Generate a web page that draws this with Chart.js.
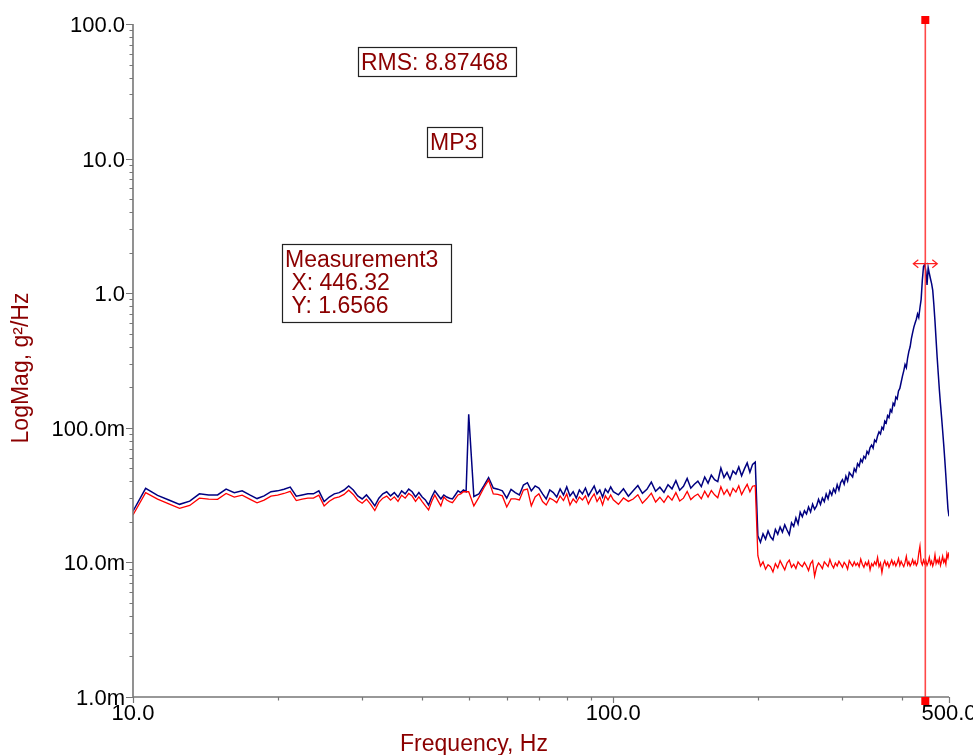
<!DOCTYPE html>
<html>
<head>
<meta charset="utf-8">
<script src="https://cdn.jsdelivr.net/npm/chart.js@4.4.1/dist/chart.umd.min.js"></script>
<style>
  html, body { margin: 0; padding: 0; background: #fff; }
  #chart { display: block; }
</style>
</head>
<body>
<canvas id="chart" width="973" height="755"></canvas>
<script>
// spectrum sampled on four frequency grids (Hz): start, step, one value per step
const SEG1_START = 10, SEG1_STEP = 0.625;
const SEG2_START = 50, SEG2_STEP = 1.25;
const SEG3_START = 100, SEG3_STEP = 2.5;
const SEG4_START = 200, SEG4_STEP = 2.5;

// blue trace, g²/Hz
const blueSeg1 = [
    0.0240, 0.0355, 0.0315, 0.0291, 0.0270, 0.0285, 0.0323, 0.0317, 0.0317, 0.0350,
    0.0330, 0.0340, 0.0317, 0.0298, 0.0312, 0.0335, 0.0340, 0.0350, 0.0363, 0.0310,
    0.0317, 0.0323, 0.0323, 0.0340, 0.0283, 0.0306, 0.0323, 0.0330, 0.0345, 0.0370,
    0.0345, 0.0312, 0.0296, 0.0317, 0.0291, 0.0263, 0.0300, 0.0323, 0.0335, 0.0312,
    0.0330, 0.0306, 0.0340, 0.0323, 0.0350, 0.0335, 0.0306, 0.0330, 0.0306, 0.0291,
    0.0267, 0.0306, 0.0340, 0.0317, 0.0296, 0.0317, 0.0306, 0.0300, 0.0296, 0.0317,
    0.0340, 0.0330, 0.0345, 0.0335
];
const blueSeg2 = [
    0.1260, 0.0309, 0.0323, 0.0370, 0.0427, 0.0357, 0.0350, 0.0340, 0.0300, 0.0349,
    0.0330, 0.0317, 0.0376, 0.0391, 0.0340, 0.0370, 0.0357, 0.0323, 0.0296, 0.0345,
    0.0330, 0.0306, 0.0351, 0.0317, 0.0364, 0.0312, 0.0335, 0.0300, 0.0345, 0.0323,
    0.0357, 0.0312, 0.0340, 0.0370, 0.0323, 0.0345, 0.0306, 0.0351, 0.0330, 0.0364
];
const blueSeg3 = [
    0.0335, 0.0318, 0.0352, 0.0310, 0.0341, 0.0372, 0.0326, 0.0349, 0.0395, 0.0338,
    0.0362, 0.0331, 0.0378, 0.0352, 0.0405, 0.0344, 0.0368, 0.0420, 0.0356, 0.0381,
    0.0402, 0.0366, 0.0431, 0.0388, 0.0445, 0.0412, 0.0398, 0.0502, 0.0428, 0.0466,
    0.0415, 0.0478, 0.0453, 0.0512, 0.0440, 0.0495, 0.0548, 0.0468, 0.0535, 0.0556
];
const blueSeg4 = [
    0.0158, 0.0141, 0.0163, 0.0149, 0.0171, 0.0155, 0.0147, 0.0176, 0.0162, 0.0183,
    0.0168, 0.0190, 0.0174, 0.0161, 0.0197, 0.0185, 0.0214, 0.0193, 0.0236, 0.0218,
    0.0242, 0.0229, 0.0258, 0.0237, 0.0271, 0.0248, 0.0263, 0.0294, 0.0270, 0.0301,
    0.0283, 0.0322, 0.0297, 0.0339, 0.0316, 0.0352, 0.0331, 0.0378, 0.0345, 0.0392,
    0.0412, 0.0381, 0.0436, 0.0402, 0.0465, 0.0448, 0.0431, 0.0497, 0.0472, 0.0541,
    0.0518, 0.0582, 0.0556, 0.0614, 0.0593, 0.0668, 0.0641, 0.0712, 0.0745, 0.0706,
    0.0812, 0.0786, 0.0868, 0.0934, 0.0902, 0.1010, 0.0975, 0.1120, 0.1085, 0.1230,
    0.1190, 0.1360, 0.1310, 0.1520, 0.1470, 0.1690, 0.1640, 0.1880, 0.1960, 0.2180,
    0.2420, 0.2650, 0.2950, 0.2800, 0.3300, 0.3700, 0.4000, 0.4600, 0.5100, 0.5600,
    0.6000, 0.6400, 0.7000, 0.6600, 0.7800, 0.9000, 1.2500, 1.5800, 1.6400, 1.4500,
    1.1500, 1.5500, 1.4000, 1.2800, 1.1800, 1.0500, 0.8200, 0.6200, 0.4500, 0.3300,
    0.2500, 0.1900, 0.1500, 0.1200, 0.0950, 0.0750, 0.0580, 0.0440, 0.0330, 0.0250,
    0.0220
];

// red trace, g²/Hz
const redSeg1 = [
    0.0225, 0.0330, 0.0295, 0.0272, 0.0252, 0.0265, 0.0300, 0.0295, 0.0294, 0.0325,
    0.0306, 0.0316, 0.0295, 0.0277, 0.0290, 0.0311, 0.0316, 0.0325, 0.0337, 0.0288,
    0.0295, 0.0300, 0.0300, 0.0316, 0.0263, 0.0285, 0.0300, 0.0307, 0.0320, 0.0344,
    0.0320, 0.0290, 0.0275, 0.0295, 0.0270, 0.0243, 0.0279, 0.0300, 0.0311, 0.0290,
    0.0307, 0.0284, 0.0316, 0.0300, 0.0325, 0.0311, 0.0284, 0.0307, 0.0283, 0.0263,
    0.0245, 0.0283, 0.0317, 0.0288, 0.0263, 0.0306, 0.0291, 0.0283, 0.0278, 0.0296,
    0.0317, 0.0323, 0.0335, 0.0335
];
const redSeg2 = [
    0.0335, 0.0263, 0.0304, 0.0357, 0.0409, 0.0323, 0.0320, 0.0312, 0.0258, 0.0296,
    0.0296, 0.0291, 0.0345, 0.0351, 0.0263, 0.0306, 0.0323, 0.0283, 0.0267, 0.0300,
    0.0291, 0.0278, 0.0312, 0.0288, 0.0323, 0.0267, 0.0296, 0.0278, 0.0306, 0.0291,
    0.0312, 0.0272, 0.0300, 0.0323, 0.0283, 0.0306, 0.0267, 0.0312, 0.0291, 0.0317
];
const redSeg3 = [
    0.0292, 0.0270, 0.0301, 0.0284, 0.0296, 0.0318, 0.0275, 0.0298, 0.0327, 0.0281,
    0.0305, 0.0279, 0.0312, 0.0290, 0.0330, 0.0286, 0.0300, 0.0336, 0.0293, 0.0310,
    0.0322, 0.0297, 0.0338, 0.0306, 0.0342, 0.0318, 0.0302, 0.0365, 0.0320, 0.0347,
    0.0312, 0.0355, 0.0333, 0.0371, 0.0319, 0.0350, 0.0380, 0.0335, 0.0368, 0.0372
];
const redSeg4 = [
    0.0112, 0.0094, 0.0101, 0.0089, 0.0096, 0.0093, 0.0085, 0.0098, 0.0091, 0.0103,
    0.0095, 0.0088, 0.0099, 0.0104, 0.0092, 0.0097, 0.0090, 0.0101, 0.0096, 0.0093,
    0.0100, 0.0094, 0.0087, 0.0098, 0.0103, 0.0079, 0.0092, 0.0099, 0.0095, 0.0090,
    0.0101, 0.0097, 0.0093, 0.0105, 0.0096, 0.0091, 0.0099, 0.0094, 0.0102, 0.0097,
    0.0092, 0.0100, 0.0096, 0.0089, 0.0103, 0.0098, 0.0094, 0.0101, 0.0095, 0.0099,
    0.0093, 0.0106, 0.0097, 0.0092, 0.0100, 0.0095, 0.0102, 0.0088, 0.0098, 0.0094,
    0.0101, 0.0096, 0.0109, 0.0093, 0.0099, 0.0084, 0.0097, 0.0103, 0.0095, 0.0100,
    0.0092, 0.0098, 0.0104, 0.0096, 0.0101, 0.0094, 0.0099, 0.0107, 0.0095, 0.0102,
    0.0097, 0.0093, 0.0100, 0.0111, 0.0096, 0.0101, 0.0094, 0.0098, 0.0105, 0.0097,
    0.0102, 0.0095, 0.0099, 0.0117, 0.0132, 0.0101, 0.0096, 0.0104, 0.0098, 0.0103,
    0.0095, 0.0100, 0.0109, 0.0097, 0.0102, 0.0094, 0.0100, 0.0114, 0.0098, 0.0104,
    0.0099, 0.0107, 0.0095, 0.0102, 0.0111, 0.0100, 0.0105, 0.0097, 0.0116, 0.0108,
    0.0119
];

// axes
const X_MIN = 10, X_MAX = 500;
const Y_MIN = 0.001, Y_MAX = 100;
const xTicks = [10, 100, 500];
const xTickLabels = ["10.0", "100.0", "500.0"];
const yTicks = [100, 10, 1, 0.1, 0.01, 0.001];
const yTickLabels = ["100.0", "10.0", "1.0", "100.0m", "10.0m", "1.0m"];
const xTitle = "Frequency, Hz";
const yTitle = "LogMag, g²/Hz";

// cursor readout
const CURSOR_NAME = "Measurement3";
const CURSOR_X = 446.32;
const CURSOR_Y = 1.6566;
const RMS_TEXT = "RMS: 8.87468";
const CHANNEL_TEXT = "MP3";

const TEXT_RED = "#8b0000";
const FONT = "'Liberation Sans', Arial, sans-serif";

function toPoints(segments) {
    const pts = [];
    segments.forEach(([start, step, values]) => {
        values.forEach((v, i) => pts.push({ x: start + i * step, y: v }));
    });
    return pts;
}

const bluePoints = toPoints([
    [SEG1_START, SEG1_STEP, blueSeg1],
    [SEG2_START, SEG2_STEP, blueSeg2],
    [SEG3_START, SEG3_STEP, blueSeg3],
    [SEG4_START, SEG4_STEP, blueSeg4]
]);
const redPoints = toPoints([
    [SEG1_START, SEG1_STEP, redSeg1],
    [SEG2_START, SEG2_STEP, redSeg2],
    [SEG3_START, SEG3_STEP, redSeg3],
    [SEG4_START, SEG4_STEP, redSeg4]
]);

// minor ticks: 2..9 inside each decade
function minorTicks(min, max) {
    const out = [];
    for (let d = Math.floor(Math.log10(min)); d <= Math.ceil(Math.log10(max)); d++) {
        for (let m = 2; m <= 9; m++) {
            const v = m * Math.pow(10, d);
            if (v > min && v < max) out.push(v);
        }
    }
    return out;
}

function textBox(ctx, lines, left, top, width, height, lineH) {
    ctx.fillStyle = "#fff";
    ctx.fillRect(left, top, width, height);
    ctx.strokeStyle = "#222";
    ctx.lineWidth = 1.2;
    ctx.strokeRect(left + 0.5, top + 0.5, width, height);
    ctx.fillStyle = TEXT_RED;
    ctx.font = "23px " + FONT;
    ctx.textAlign = "left";
    ctx.textBaseline = "alphabetic";
    lines.forEach((t, i) => ctx.fillText(t, left + 3, top + 23 + i * lineH));
}

const axesPlugin = {
    id: "axesPlugin",
    afterDraw(chart) {
        const ctx = chart.ctx;
        const { left, right, top, bottom } = chart.chartArea;
        const xs = chart.scales.x, ys = chart.scales.y;
        ctx.save();

        // axis lines
        ctx.strokeStyle = "#777";
        ctx.lineWidth = 1.6;
        ctx.beginPath();
        ctx.moveTo(left, top);
        ctx.lineTo(left, bottom);
        ctx.lineTo(right, bottom);
        ctx.stroke();

        // tick marks
        ctx.lineWidth = 1.2;
        ctx.beginPath();
        yTicks.forEach(v => {
            const y = Math.round(ys.getPixelForValue(v)) + 0.5;
            ctx.moveTo(left - 7, y); ctx.lineTo(left, y);
        });
        minorTicks(Y_MIN, Y_MAX).forEach(v => {
            const y = Math.round(ys.getPixelForValue(v)) + 0.5;
            ctx.moveTo(left - 3.5, y); ctx.lineTo(left, y);
        });
        xTicks.forEach(v => {
            const x = Math.round(xs.getPixelForValue(v)) + 0.5;
            ctx.moveTo(x, bottom); ctx.lineTo(x, bottom + 6);
        });
        minorTicks(X_MIN, X_MAX).forEach(v => {
            const x = Math.round(xs.getPixelForValue(v)) + 0.5;
            ctx.moveTo(x, bottom); ctx.lineTo(x, bottom + 3.5);
        });
        ctx.stroke();

        // tick labels
        ctx.fillStyle = "#000";
        ctx.font = "22px " + FONT;
        ctx.textAlign = "right";
        ctx.textBaseline = "middle";
        yTicks.forEach((v, i) => {
            ctx.fillText(yTickLabels[i], left - 8, ys.getPixelForValue(v) + 2);
        });
        ctx.textAlign = "center";
        ctx.textBaseline = "top";
        xTicks.forEach((v, i) => {
            ctx.fillText(xTickLabels[i], xs.getPixelForValue(v), bottom + 6);
        });

        // axis titles
        ctx.fillStyle = TEXT_RED;
        ctx.font = "23px " + FONT;
        ctx.textBaseline = "alphabetic";
        ctx.fillText(xTitle, 474, 751);
        ctx.save();
        ctx.translate(28, 368);
        ctx.rotate(-Math.PI / 2);
        ctx.fillText(yTitle, 0, 0);
        ctx.restore();

        // cursor line with end handles
        const cx = xs.getPixelForValue(CURSOR_X);
        const cy = ys.getPixelForValue(CURSOR_Y);
        ctx.strokeStyle = "rgba(255, 40, 40, 0.85)";
        ctx.lineWidth = 1.6;
        ctx.beginPath();
        ctx.moveTo(cx, top - 4);
        ctx.lineTo(cx, bottom + 4);
        ctx.stroke();
        ctx.fillStyle = "#ff0000";
        ctx.fillRect(cx - 4, top - 8, 8, 8);
        ctx.fillRect(cx - 4, bottom, 8, 8);

        // double arrow at the cursor reading
        ctx.strokeStyle = "#ff2020";
        ctx.lineWidth = 1.2;
        ctx.beginPath();
        ctx.moveTo(cx - 12, cy); ctx.lineTo(cx + 12, cy);
        ctx.moveTo(cx - 7, cy - 4); ctx.lineTo(cx - 12, cy); ctx.lineTo(cx - 7, cy + 4);
        ctx.moveTo(cx + 7, cy - 4); ctx.lineTo(cx + 12, cy); ctx.lineTo(cx + 7, cy + 4);
        ctx.stroke();

        // readout boxes
        textBox(ctx, [RMS_TEXT], 358, 47, 158, 29, 23);
        textBox(ctx, [CHANNEL_TEXT], 427, 127, 55, 30, 23);
        textBox(ctx, [CURSOR_NAME, " X: " + CURSOR_X.toFixed(2), " Y: " + CURSOR_Y.toFixed(4)],
            282, 244, 169, 78, 23);

        ctx.restore();
    }
};

const ctx = document.getElementById("chart").getContext("2d");
const chart = new Chart(ctx, {
    type: "line",
    data: {
        datasets: [
            {
                label: "red",
                data: redPoints,
                borderColor: "#ff0000",
                borderWidth: 1.3,
                pointRadius: 0,
                tension: 0
            },
            {
                label: "blue",
                data: bluePoints,
                borderColor: "#000080",
                borderWidth: 1.5,
                pointRadius: 0,
                tension: 0
            }
        ]
    },
    options: {
        responsive: false,
        devicePixelRatio: 1,
        animation: false,
        layout: { padding: { left: 133, right: 24, top: 24, bottom: 58 } },
        scales: {
            x: { type: "logarithmic", min: X_MIN, max: X_MAX, display: false },
            y: { type: "logarithmic", min: Y_MIN, max: Y_MAX, display: false }
        },
        plugins: {
            legend: { display: false },
            tooltip: { enabled: false }
        }
    },
    plugins: [axesPlugin]
});
</script>
</body>
</html>
